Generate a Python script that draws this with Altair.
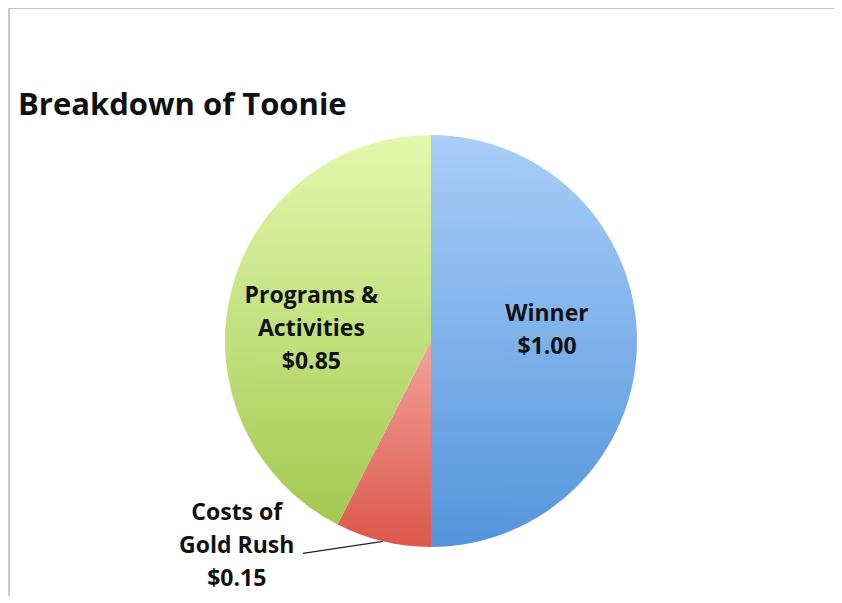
import math
import altair as alt
import pandas as pd

# ---- data ----
categories = ["Winner", "Costs of Gold Rush", "Programs & Activities"]
label_lines = ["Winner", "Costs of\nGold Rush", "Programs &\nActivities"]
values = [1.00, 0.15, 0.85]
title_text = "Breakdown of Toonie"

total = sum(values)
df = pd.DataFrame({
    "category": categories,
    "name": label_lines,
    "value": values,
    "order": list(range(len(categories))),
})
df["label"] = df["name"] + "\n" + df["value"].map(lambda v: f"${v:.2f}")

# ---- style ----
CX, CY, R = 423, 333, 206
FONT = "Open Sans"
W, H = 826, 588
LH = 33

grads = {
    "Winner": ("#a9cef8", "#5494dc"),
    "Costs of Gold Rush": ("#f3a29b", "#dc574b"),
    "Programs & Activities": ("#e3f8ad", "#a3c950"),
}

theta_scale = alt.Scale(domain=[0, total], range=[0, 2 * math.pi])

base = alt.Chart(df).transform_window(
    cum="sum(value)", sort=[alt.SortField("order")], frame=[None, 0]
).transform_calculate(
    start="datum.cum - datum.value",
    mid="datum.cum - datum.value / 2",
)

layers = []
for cat in categories:
    top, bot = grads[cat]
    g = alt.LinearGradient(
        gradient="linear", x1=0, y1=0, x2=0, y2=1,
        stops=[alt.GradientStop(offset=0, color=top),
               alt.GradientStop(offset=1, color=bot)],
    )
    layers.append(
        base.transform_filter(alt.datum.category == cat)
        .mark_arc(outerRadius=R, fill=g, stroke=None)
        .encode(
            theta=alt.Theta("start:Q", scale=theta_scale, stack=None),
            theta2="cum:Q",
            x=alt.value(CX), y=alt.value(CY),
        )
    )

# first line sits at the anchor; shift blocks up by half their extra lines
label_cfg = {
    "Winner": dict(radius=116, dx=0, dy=-11 - LH / 2),
    "Programs & Activities": dict(radius=123, dx=0, dy=17 - LH),
    "Costs of Gold Rush": dict(radius=211, dx=-145, dy=0 - LH),
}
for cat, cfg in label_cfg.items():
    layers.append(
        base.transform_filter(alt.datum.category == cat)
        .mark_text(font=FONT, fontWeight="bold", fontSize=23, lineBreak="\n",
                   lineHeight=LH, align="center", baseline="middle",
                   color="#111111", **cfg)
        .encode(
            theta=alt.Theta("mid:Q", scale=theta_scale, stack=None),
            text="label:N",
            x=alt.value(CX), y=alt.value(CY),
        )
    )

# leader line for the small slice
leader = base.transform_filter(alt.datum.category == "Costs of Gold Rush").transform_calculate(
    ang=f"datum.mid / {total} * 2 * PI",
).transform_calculate(
    lx=f"{CX} + {R} * sin(datum.ang)",
    ly=f"{CY} - {R} * cos(datum.ang)",
).transform_calculate(
    lx2="datum.lx - 80",
    ly2="datum.ly + 12",
).mark_rule(color="#222222", strokeWidth=1.3).encode(
    x=alt.X("lx:Q", scale=None), y=alt.Y("ly:Q", scale=None),
    x2="lx2:Q", y2="ly2:Q",
)
layers.append(leader)

title = alt.Chart(pd.DataFrame({"t": [title_text]})).mark_text(
    font=FONT, fontWeight="bold", fontSize=31, align="left",
    baseline="alphabetic", color="#111111",
).encode(text="t:N", x=alt.value(10), y=alt.value(107))
layers.append(title)

frame_top = alt.Chart(pd.DataFrame({"a": [0]})).mark_rule(
    color="#c9c9c9", strokeWidth=2
).encode(x=alt.value(0), x2=alt.value(W), y=alt.value(0))
frame_left = alt.Chart(pd.DataFrame({"a": [0]})).mark_rule(
    color="#c9c9c9", strokeWidth=2
).encode(x=alt.value(1), y=alt.value(0), y2=alt.value(H))
layers += [frame_top, frame_left]

chart = alt.layer(*layers).properties(
    width=W, height=H, padding=0, autosize=alt.AutoSizeParams(type="none"),
    background="white",
).configure_view(stroke=None)

chart.save("out.html", embed_options={"renderer": "svg", "actions": False})
